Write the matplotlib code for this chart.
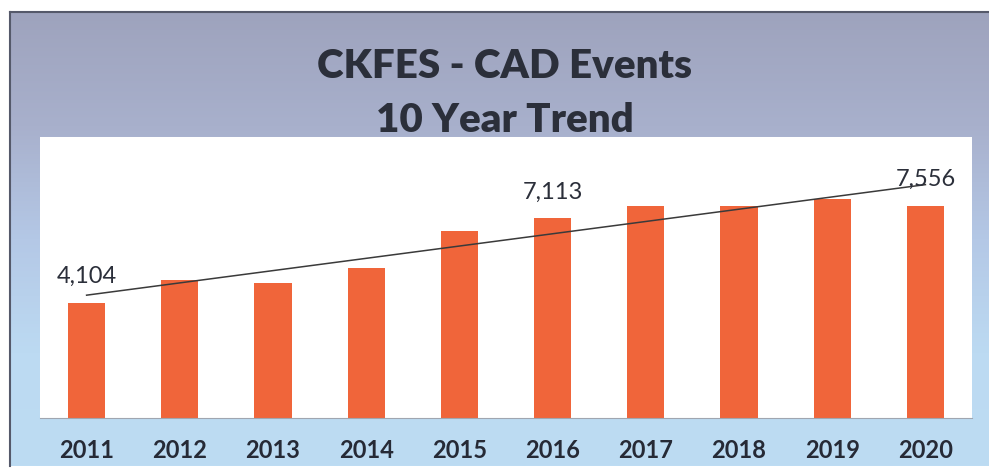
import numpy as np
import matplotlib
matplotlib.use('Agg')
import matplotlib.pyplot as plt
from matplotlib.colors import LinearSegmentedColormap

years = ['2011', '2012', '2013', '2014', '2015', '2016', '2017', '2018', '2019', '2020']
events = [4104, 4902, 4806, 5351, 6657, 7113, 7537, 7547, 7807, 7556]
labelled = {0: '4,104', 5: '7,113', 9: '7,556'}

W, H = 989, 474
fig = plt.figure(figsize=(W / 100, H / 100), dpi=100)
fig.patch.set_facecolor('white')

def box(x0, y0, x1, y1):
    # pixel box (top-left origin) -> figure fraction rect
    return [x0 / W, 1 - y1 / H, (x1 - x0) / W, (y1 - y0) / H]

# slide background with vertical gradient
bg = fig.add_axes(box(10, 12, 989, 466))
grad = LinearSegmentedColormap.from_list('g', ['#9ea3bd', '#a8b0cc', '#b4c8e6', '#bcdaf2', '#bddcf3'])
bg.imshow(np.linspace(0, 1, 256).reshape(-1, 1), aspect='auto', cmap=grad, extent=[0, 1, 0, 1], origin='upper')
bg.set_xticks([])
bg.set_yticks([])
for s in ['top', 'left']:
    bg.spines[s].set_color('#55596a')
    bg.spines[s].set_linewidth(1.5)
for s in ['bottom', 'right']:
    bg.spines[s].set_visible(False)

fig.text(505 / W, 1 - 78 / H, 'CKFES - CAD Events', ha='center', va='baseline',
         fontsize=29, fontweight='heavy', family='Lato', color='#2b2f3a')
fig.text(505 / W, 1 - 132 / H, '10 Year Trend', ha='center', va='baseline',
         fontsize=29, fontweight='heavy', family='Lato', color='#2b2f3a')

ax = fig.add_axes(box(40, 137, 972, 418))
ax.set_facecolor('white')
x = np.arange(len(years))
ax.bar(x, events, width=0.4, color='#f0653a', zorder=2)

# linear trendline
k, b = np.polyfit(x, events, 1)
ax.plot([0, 9], [b, b + 9 * k], color='#3a3a3a', lw=1.1, zorder=3)

for i, t in labelled.items():
    ax.text(x[i], events[i] + 700, t, ha='center', va='baseline',
            fontsize=17, family='Lato', color='#2b2f3a', zorder=4)

ax.set_xlim(-0.5, 9.5)
ax.set_ylim(0, 10000)
ax.set_yticks([])
ax.set_xticks(x)
ax.set_xticklabels(years, fontsize=17, family='Lato', fontweight='bold', color='#262a36')
ax.tick_params(axis='x', length=0, pad=15)
for s in ['top', 'left', 'right']:
    ax.spines[s].set_visible(False)
ax.spines['bottom'].set_color('#a0a6b0')

fig.savefig('out.png', dpi=100)
